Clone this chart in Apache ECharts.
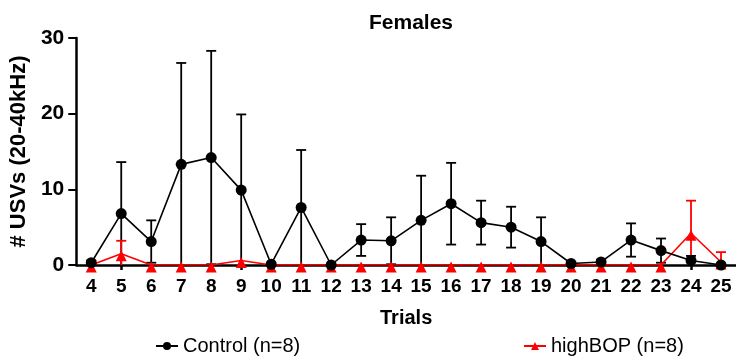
<!DOCTYPE html>
<html>
<head>
<meta charset="utf-8">
<script src="https://cdn.jsdelivr.net/npm/echarts@6/dist/echarts.min.js"></script>
<style>html,body{margin:0;padding:0;background:#fff}#c{width:736px;height:358px}</style>
</head>
<body>
<div id="c"></div>
<script>
const trials = ['4','5','6','7','8','9','10','11','12','13','14','15','16','17','18','19','20','21','22','23','24','25'];
const controlMean = [0.3, 6.8, 3.1, 13.3, 14.2, 9.9, 0.1, 7.6, 0, 3.3, 3.2, 5.9, 8.1, 5.6, 5.0, 3.1, 0.2, 0.4, 3.3, 1.9, 0.6, 0];
const controlSD   = [0.3, 6.8, 2.8, 13.4, 14.1, 10.0, 0.2, 7.6, 0, 2.1, 3.1, 5.9, 5.4, 2.9, 2.7, 3.2, 0.2, 0.3, 2.2, 1.6, 0.6, 0];
const highBOPMean = [0, 1.5, 0, 0, 0, 0.6, 0, 0, 0, 0, 0, 0, 0, 0, 0, 0, 0, 0, 0, 0, 4.2, 0.4];
const highBOPSD   = [0, 1.7, 0, 0, 0, 0, 0, 0, 0, 0, 0, 0, 0, 0, 0, 0, 0, 0, 0, 0, 4.3, 1.3];
const yTicks = [0, 10, 20, 30];

const FONT = '"Liberation Sans", Arial, sans-serif';

function errData(mean, sd) {
  return mean.map((m, i) => [i, Math.max(0, m - sd[i]), m + sd[i], sd[i]]);
}
function errRender(color) {
  return function (params, api) {
    const x = api.value(0);
    if (api.value(3) <= 0) return null;
    const lo = api.coord([x, api.value(1)]);
    const hi = api.coord([x, api.value(2)]);
    const h = 5;
    const st = { stroke: color, lineWidth: 1.8 };
    const ch = [
      { type: 'line', shape: { x1: hi[0], y1: hi[1], x2: lo[0], y2: lo[1] }, style: st },
      { type: 'line', shape: { x1: hi[0] - h, y1: hi[1], x2: hi[0] + h, y2: hi[1] }, style: st }
    ];
    if (api.value(1) > 0) {
      ch.push({ type: 'line', shape: { x1: lo[0] - h, y1: lo[1], x2: lo[0] + h, y2: lo[1] }, style: st });
    }
    return { type: 'group', children: ch };
  };
}

const chart = echarts.init(document.getElementById('c'), null, { renderer: 'canvas' });
chart.setOption({
  animation: false,
  textStyle: { fontFamily: FONT },
  title: {
    text: 'Females', left: 406, top: 8, textAlign: 'center',
    textStyle: { fontFamily: FONT, fontSize: 21, fontWeight: 'bold', color: '#000' }
  },
  legend: [
    { data: ['Control (n=8)'], left: 150, top: 331, itemWidth: 22, itemHeight: 10, itemGap: 8,
      textStyle: { fontFamily: FONT, fontSize: 20, color: '#000' } },
    { data: ['highBOP (n=8)'], left: 518, top: 331, itemWidth: 22, itemHeight: 10, itemGap: 8,
      textStyle: { fontFamily: FONT, fontSize: 20, color: '#000' } }
  ],
  grid: { left: 76, top: 38, width: 662, height: 227, containLabel: false },
  xAxis: {
    type: 'category', data: trials, boundaryGap: true,
    name: 'Trials', nameLocation: 'middle', nameGap: 43,
    nameTextStyle: { fontFamily: FONT, fontSize: 20, fontWeight: 'bold', color: '#000' },
    axisLine: { lineStyle: { color: '#000', width: 2.5 } },
    axisTick: { show: true, alignWithLabel: true, length: 5, lineStyle: { color: '#000', width: 2.5 } },
    axisLabel: { interval: 0, margin: 12, fontFamily: FONT, fontSize: 19, fontWeight: 'bold', color: '#000' },
    splitLine: { show: false }
  },
  yAxis: {
    type: 'value', min: yTicks[0], max: yTicks[yTicks.length - 1], interval: 10,
    name: '# USVs (20-40kHz)', nameLocation: 'middle', nameGap: 46, nameRotate: 90,
    nameTextStyle: { fontFamily: FONT, fontSize: 22, fontWeight: 'bold', color: '#000' },
    axisLine: { show: true, lineStyle: { color: '#000', width: 2.5 } },
    axisTick: { show: true, length: 8, lineStyle: { color: '#000', width: 2 } },
    axisLabel: { margin: 12, fontFamily: FONT, fontSize: 21, fontWeight: 'bold', color: '#000' },
    splitLine: { show: false }
  },
  series: [
    {
      name: 'controlErr', type: 'custom', renderItem: errRender('#000'),
      data: errData(controlMean, controlSD), z: 2, silent: true
    },
    {
      name: 'highBOPErr', type: 'custom', renderItem: errRender('#ff0000'),
      data: errData(highBOPMean, highBOPSD), z: 3, silent: true
    },
    {
      name: 'highBOP (n=8)', type: 'line', data: highBOPMean, z: 4,
      symbol: 'triangle', symbolSize: 11, symbolOffset: [0, 2],
      lineStyle: { color: '#ff0000', width: 1.6 },
      itemStyle: { color: '#ff0000' }
    },
    {
      name: 'Control (n=8)', type: 'line', data: controlMean, z: 5,
      symbol: 'circle', symbolSize: 11,
      lineStyle: { color: '#000', width: 1.6 },
      itemStyle: { color: '#000' }
    }
  ]
});
</script>
</body>
</html>
